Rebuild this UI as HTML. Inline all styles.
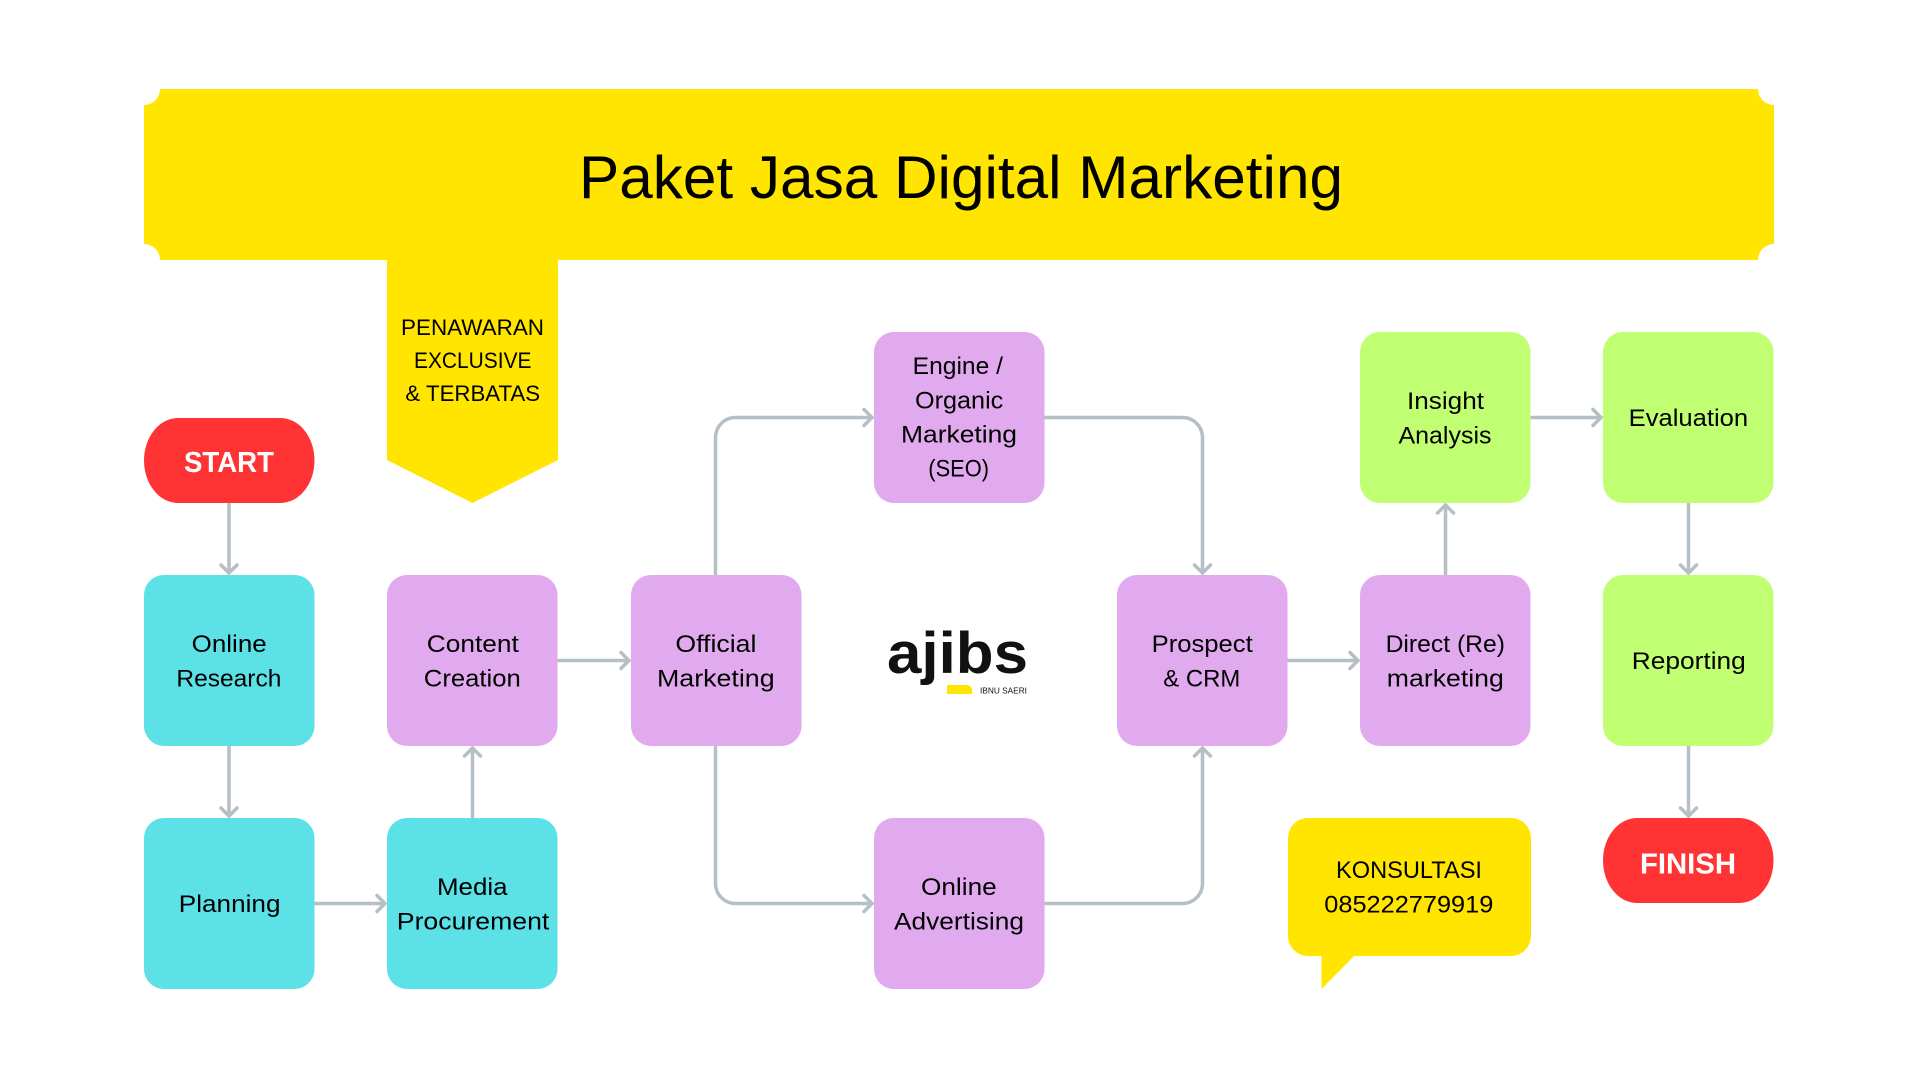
<!DOCTYPE html>
<html>
<head>
<meta charset="utf-8">
<style>
  html, body { margin: 0; padding: 0; background: #ffffff; }
  body { width: 1920px; height: 1080px; overflow: hidden; }
  svg { display: block; }
  text { font-family: "Liberation Sans", "DejaVu Sans", sans-serif; fill: #000; }
  .n { font-size: 24px; }
  .b { font-weight: bold; fill: #fff; font-size: 29px; }
</style>
</head>
<body>
<svg width="1920" height="1080" viewBox="0 0 1920 1080" xmlns="http://www.w3.org/2000/svg">
  <rect x="0" y="0" width="1920" height="1080" fill="#ffffff"/>

  <!-- Title banner with notched corners -->
  <path d="M160,89 H1758 A16,16 0 0 0 1774,105 V244 A16,16 0 0 0 1758,260 H160 A16,16 0 0 0 144,244 V105 A16,16 0 0 0 160,89 Z" fill="#ffe500"/>
  <!-- Tab -->
  <path d="M387,255 H558 V460 L472.5,503 L387,460 Z" fill="#ffe500"/>

  <text x="579" y="198" font-size="60" textLength="764" lengthAdjust="spacingAndGlyphs">Paket Jasa Digital Marketing</text>
  <text x="401" y="335" font-size="22" textLength="143" lengthAdjust="spacingAndGlyphs">PENAWARAN</text>
  <text x="414" y="368" font-size="22" textLength="117.5" lengthAdjust="spacingAndGlyphs">EXCLUSIVE</text>
  <text x="405.4" y="401" font-size="22" textLength="134.7" lengthAdjust="spacingAndGlyphs">&amp; TERBATAS</text>

  <!-- Connectors -->
  <g fill="none" stroke="#b4bfc6" stroke-width="3.5" stroke-linecap="round" stroke-linejoin="round">
    <path d="M229,504 V573"/><path d="M221,565 L229,573 L237,565"/>
    <path d="M229,747 V816"/><path d="M221,808 L229,816 L237,808"/>
    <path d="M315,903.5 H385"/><path d="M377,895.5 L385,903.5 L377,911.5"/>
    <path d="M472.5,817 V748"/><path d="M464.5,756 L472.5,748 L480.5,756"/>
    <path d="M558,660.5 H629"/><path d="M621,652.5 L629,660.5 L621,668.5"/>
    <path d="M715.5,574 V437.5 A20,20 0 0 1 735.5,417.5 H872"/><path d="M864,409.5 L872,417.5 L864,425.5"/>
    <path d="M715.5,747 V883.5 A20,20 0 0 0 735.5,903.5 H872"/><path d="M864,895.5 L872,903.5 L864,911.5"/>
    <path d="M1045,417.5 H1182.5 A20,20 0 0 1 1202.5,437.5 V573"/><path d="M1194.5,565 L1202.5,573 L1210.5,565"/>
    <path d="M1045,903.5 H1182.5 A20,20 0 0 0 1202.5,883.5 V748"/><path d="M1194.5,756 L1202.5,748 L1210.5,756"/>
    <path d="M1288,660.5 H1358"/><path d="M1350,652.5 L1358,660.5 L1350,668.5"/>
    <path d="M1445.5,574 V505"/><path d="M1437.5,513 L1445.5,505 L1453.5,513"/>
    <path d="M1531,417.5 H1601"/><path d="M1593,409.5 L1601,417.5 L1593,425.5"/>
    <path d="M1688.5,504 V573"/><path d="M1680.5,565 L1688.5,573 L1696.5,565"/>
    <path d="M1688.5,747 V816"/><path d="M1680.5,808 L1688.5,816 L1696.5,808"/>
  </g>

  <!-- START / FINISH -->
  <rect x="144" y="418" width="170.5" height="85" rx="34" ry="42.5" fill="#ff3333"/>
  <text class="b" x="184" y="472" textLength="90" lengthAdjust="spacingAndGlyphs">START</text>
  <rect x="1603" y="818" width="170.5" height="85" rx="34" ry="42.5" fill="#ff3333"/>
  <text class="b" x="1640" y="873.5" textLength="96" lengthAdjust="spacingAndGlyphs">FINISH</text>

  <!-- Cyan nodes -->
  <g fill="#5ce1e6">
    <rect x="144" y="575" width="170.5" height="171" rx="20"/>
    <rect x="144" y="818" width="170.5" height="171" rx="20"/>
    <rect x="387" y="818" width="170.5" height="171" rx="20"/>
  </g>
  <!-- Lavender nodes -->
  <g fill="#e1aaee">
    <rect x="387" y="575" width="170.5" height="171" rx="20"/>
    <rect x="631" y="575" width="170.5" height="171" rx="20"/>
    <rect x="874" y="332" width="170.5" height="171" rx="20"/>
    <rect x="874" y="818" width="170.5" height="171" rx="20"/>
    <rect x="1117" y="575" width="170.5" height="171" rx="20"/>
    <rect x="1360" y="575" width="170.5" height="171" rx="20"/>
  </g>
  <!-- Green nodes -->
  <g fill="#c1ff72">
    <rect x="1360" y="332" width="170.5" height="171" rx="20"/>
    <rect x="1603" y="332" width="170.5" height="171" rx="20"/>
    <rect x="1603" y="575" width="170.5" height="171" rx="20"/>
  </g>

  <!-- Node labels -->
  <g class="n">
    <text class="n" x="191.7" y="652" textLength="75" lengthAdjust="spacingAndGlyphs">Online</text>
    <text class="n" x="176.4" y="686.5" textLength="105" lengthAdjust="spacingAndGlyphs">Research</text>
    <text class="n" x="426.8" y="652" textLength="92" lengthAdjust="spacingAndGlyphs">Content</text>
    <text class="n" x="423.8" y="686.5" textLength="97" lengthAdjust="spacingAndGlyphs">Creation</text>
    <text class="n" x="675.4" y="652" textLength="81" lengthAdjust="spacingAndGlyphs">Official</text>
    <text class="n" x="657" y="686.5" textLength="117.6" lengthAdjust="spacingAndGlyphs">Marketing</text>
    <text class="n" x="178.8" y="912" textLength="101.7" lengthAdjust="spacingAndGlyphs">Planning</text>
    <text class="n" x="437" y="895" textLength="70.5" lengthAdjust="spacingAndGlyphs">Media</text>
    <text class="n" x="396.8" y="929.5" textLength="152.5" lengthAdjust="spacingAndGlyphs">Procurement</text>
    <text class="n" x="912.7" y="374" textLength="90.3" lengthAdjust="spacingAndGlyphs">Engine /</text>
    <text class="n" x="915" y="408.3" textLength="88.3" lengthAdjust="spacingAndGlyphs">Organic</text>
    <text class="n" x="901" y="442.7" textLength="116" lengthAdjust="spacingAndGlyphs">Marketing</text>
    <text class="n" x="928.3" y="476.7" textLength="60.7" lengthAdjust="spacingAndGlyphs">(SEO)</text>
    <text class="n" x="921" y="895" textLength="75.7" lengthAdjust="spacingAndGlyphs">Online</text>
    <text class="n" x="894" y="929.3" textLength="130" lengthAdjust="spacingAndGlyphs">Advertising</text>
    <text class="n" x="1151.7" y="652" textLength="101" lengthAdjust="spacingAndGlyphs">Prospect</text>
    <text class="n" x="1163.3" y="686.5" textLength="77" lengthAdjust="spacingAndGlyphs">&amp; CRM</text>
    <text class="n" x="1385.6" y="652" textLength="119.4" lengthAdjust="spacingAndGlyphs">Direct (Re)</text>
    <text class="n" x="1386.8" y="686.5" textLength="117" lengthAdjust="spacingAndGlyphs">marketing</text>
    <text class="n" x="1407" y="409" textLength="77" lengthAdjust="spacingAndGlyphs">Insight</text>
    <text class="n" x="1398.5" y="443.5" textLength="93" lengthAdjust="spacingAndGlyphs">Analysis</text>
    <text class="n" x="1628.7" y="426" textLength="119.4" lengthAdjust="spacingAndGlyphs">Evaluation</text>
    <text class="n" x="1631.8" y="669" textLength="114" lengthAdjust="spacingAndGlyphs">Reporting</text>
  </g>

  <!-- Speech bubble -->
  <rect x="1288" y="818" width="243" height="138" rx="20" fill="#ffe500"/>
  <path d="M1321.5,950 V989 L1360,950 Z" fill="#ffe500"/>
  <text class="n" x="1336" y="878" textLength="146" lengthAdjust="spacingAndGlyphs">KONSULTASI</text>
  <text class="n" x="1324.3" y="912.5" textLength="169" lengthAdjust="spacingAndGlyphs">085222779919</text>

  <!-- Logo -->
  <text x="887" y="673" font-size="58" font-weight="bold" textLength="141" lengthAdjust="spacingAndGlyphs" style="fill:#111">ajibs</text>
  <path d="M947,685 H966 Q972,685 972,691 V694 H947 Z" fill="#ffe500"/>
  <text x="980" y="693.5" font-size="8.5" textLength="47" lengthAdjust="spacingAndGlyphs" style="fill:#111">IBNU SAERI</text>
</svg>
</body>
</html>
